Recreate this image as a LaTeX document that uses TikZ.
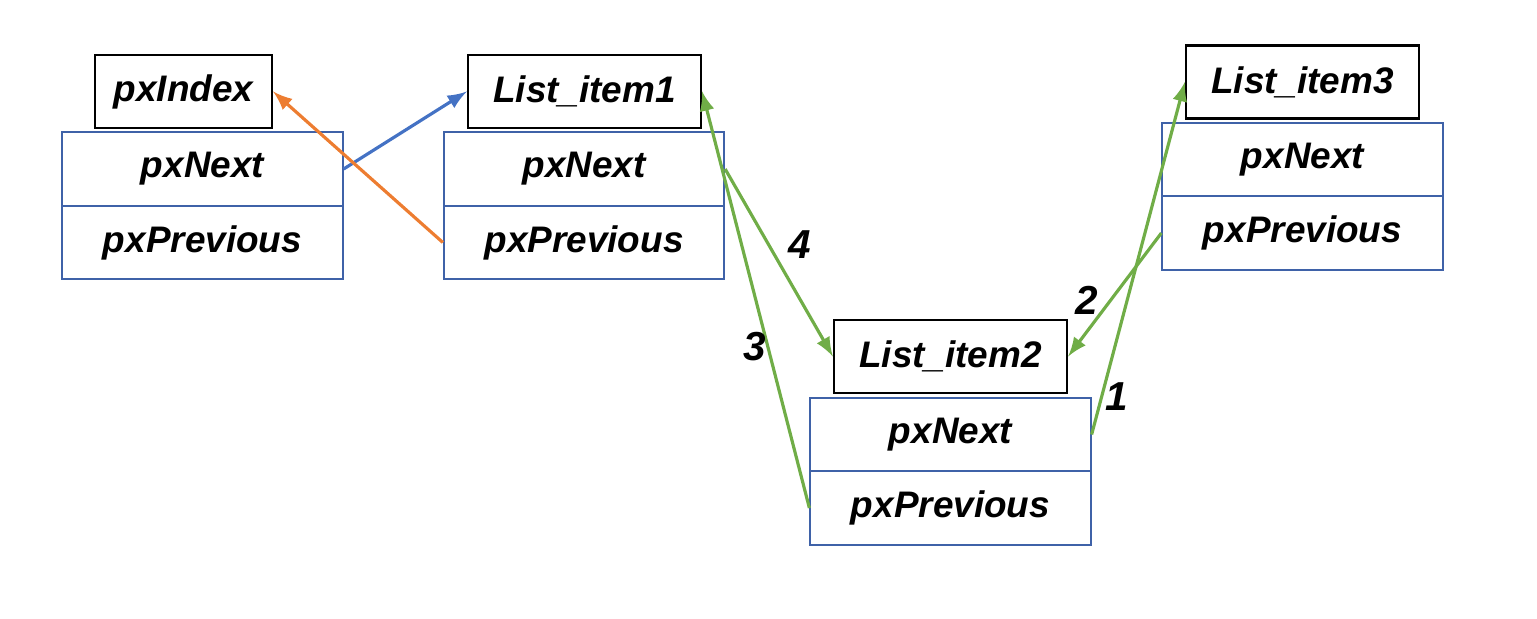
\documentclass[tikz,border=0pt]{standalone}
\usepackage{fontspec}
\setmainfont{Liberation Sans}
\usepackage{xcolor}
\usepackage{tikz}
\usetikzlibrary{shapes,arrows,positioning,calc}

\definecolor{cellblue}{HTML}{3F62A8}
\definecolor{linkblue}{HTML}{4472C4}
\definecolor{linkorange}{HTML}{ED7D31}
\definecolor{linkgreen}{HTML}{70AD47}

\begin{document}
\begin{tikzpicture}[x=0.01cm, y=-0.01cm, font=\fontsize{10.5}{13}\selectfont\bfseries\itshape]
    % Define styles
    \tikzstyle{title} = [rectangle, draw=black, line width=0.6pt, inner sep=0pt, minimum height=0.73cm]
    \tikzstyle{cell} = [rectangle, draw=cellblue, line width=0.6pt, inner sep=0pt, minimum width=2.8cm, minimum height=0.735cm]
    \tikzstyle{link} = [-latex, line width=0.9pt]
    \tikzstyle{num} = [font=\fontsize{11.5}{14}\selectfont\bfseries\itshape]

    \useasboundingbox (0,0) rectangle (1537,619);

    % Index
    \node[title, minimum width=1.77cm] (idx) at (183.5,91.5) {pxIndex};
    \node[cell] (idxnext) at (202.5,169) {pxNext};
    \node[cell] (idxprev) at (202.5,242.5) {pxPrevious};

    % List items
    \node[title, minimum width=2.33cm] (item1) at (584.5,91.5) {List\_item1};
    \node[cell] (item1next) at (584,169) {pxNext};
    \node[cell] (item1prev) at (584,242.5) {pxPrevious};

    \node[title, minimum width=2.33cm] (item2) at (950.5,356.5) {List\_item2};
    \node[cell] (item2next) at (950.5,434.5) {pxNext};
    \node[cell] (item2prev) at (950.5,508) {pxPrevious};

    \node[title, minimum width=2.33cm] (item3) at (1302.5,82) {List\_item3};
    \node[cell] (item3next) at (1302.5,159.5) {pxNext};
    \node[cell] (item3prev) at (1302.5,233) {pxPrevious};

    % Links
    \draw[link, linkblue] (idxnext.east) -- (item1.west);
    \draw[link, linkorange] (item1prev.west) -- (idx.east);

    \draw[link, linkgreen] (item2next.east) -- (item3.west);
    \draw[link, linkgreen] (item3prev.west) -- (item2.east);
    \draw[link, linkgreen] (item2prev.west) -- (item1.east);
    \draw[link, linkgreen] (item1next.east) -- (item2.west);

    % Step numbers
    \node[num] (n1) at (1117,397) {1};
    \node[num] (n2) at (1087,300) {2};
    \node[num] (n3) at (755,347) {3};
    \node[num] (n4) at (800,245) {4};

\end{tikzpicture}
\end{document}
